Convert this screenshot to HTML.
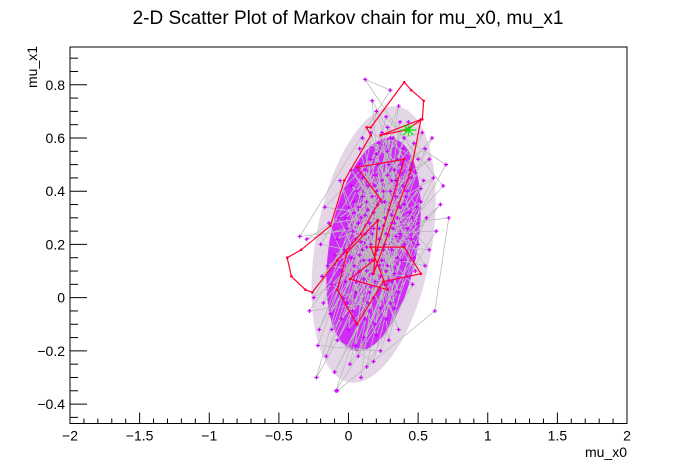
<!DOCTYPE html>
<html><head><meta charset="utf-8"><style>
body{margin:0;background:#fff;}
svg{display:block;font-family:"Liberation Sans",Arial,sans-serif;}
</style></head><body>
<svg id="chart" width="696" height="472">
<rect width="696" height="472" fill="#fff"/>
<text x="348" y="24" font-size="19" text-anchor="middle">2-D Scatter Plot of Markov chain for mu_x0, mu_x1</text>
<g id="plot"></g>
<text x="627" y="457" font-size="14" text-anchor="end">mu_x0</text>
<text transform="translate(37,88) rotate(-90)" font-size="14" text-anchor="start">mu_x1</text>
</svg>
<script>
const xTicks=[-2,-1.5,-1,-0.5,0,0.5,1,1.5,2];
const xTickLabels=["\u22122","\u22121.5","\u22121","\u22120.5","0","0.5","1","1.5","2"];
const yTicks=[-0.4,-0.2,0,0.2,0.4,0.6,0.8];
const yTickLabels=["\u22120.4","\u22120.2","0","0.2","0.4","0.6","0.8"];
const chainX=[0.12,0.25,0.05,0.31,0.18,-0.05,0.22,0.40,0.09,0.28,0.15,-0.12,0.33,0.20,0.02,0.45,0.11,0.26,0.38,-0.02,0.17,0.29,0.07,0.52,0.13,-0.18,0.24,0.35,0.04,0.19,0.47,-0.08,0.21,0.10,0.30,0.56,0.00,0.16,0.27,-0.15,0.42,0.08,0.34,0.14,-0.22,0.23,0.50,0.06,0.37,0.18,-0.10,0.28,0.61,0.03,0.20,0.44,-0.05,0.15,0.32,0.09,0.26,0.55,-0.20,0.12,0.36,0.22,-0.01,0.48,0.17,0.05,0.31,0.66,-0.12,0.24,0.11,0.40,0.19,-0.25,0.29,0.07,0.46,0.13,0.34,0.02,0.21,0.58,-0.07,0.16,0.27,0.39,0.10,-0.16,0.25,0.53,0.08,0.33,-0.03,0.19,0.42,0.14,-0.28,0.30,0.06,0.49,0.22,0.00,0.36,0.12,0.63,-0.09,0.26,0.17,0.44,0.04,0.31,-0.14,0.20,0.38,0.10,0.55,0.23,-0.04,0.28,0.15,0.47,0.01,0.35,0.18,-0.19,0.41,0.09,0.27,0.68,0.13,-0.06,0.33,0.21,0.50,0.05,-0.23,0.24,0.37,0.12,0.30,-0.02,0.45,0.16,0.58,0.08,0.26,-0.30,0.34,0.19,0.03,0.43,0.14,0.29,0.52,-0.10,0.22,0.36,0.07,0.40,0.18,-0.08,0.60,0.25,0.11,0.32,0.02,0.48,0.20,-0.17,0.35,0.15,0.28,0.70,0.06,0.24,0.42,-0.13,0.17,0.31,0.10,0.54,0.21,-0.01,0.39,0.13,0.27,0.46,0.04,0.19,-0.21,0.33,0.23,0.08,0.37,0.16,0.50,0.12,0.30,-0.35,0.72,0.62,-0.08];
const chainY=[0.31,0.18,0.02,0.44,0.26,-0.08,0.12,0.35,0.21,0.55,-0.05,0.05,0.28,0.40,0.15,0.22,-0.15,0.05,0.50,0.30,0.09,0.33,-0.22,0.41,0.19,-0.02,0.62,0.15,0.36,-0.10,0.58,0.22,0.29,0.45,-0.02,0.30,-0.12,0.52,0.24,0.12,0.08,0.10,0.38,0.33,-0.18,-0.20,0.20,0.40,0.66,0.00,-0.28,0.12,0.45,0.25,0.70,0.32,0.10,0.14,0.60,-0.30,0.36,0.12,0.20,0.48,0.02,0.22,-0.02,0.47,0.38,-0.18,0.18,0.35,-0.12,0.44,0.07,0.60,0.16,0.00,0.50,0.28,0.05,-0.26,0.23,0.42,0.35,0.52,0.30,0.04,-0.08,0.42,0.18,-0.22,0.27,0.62,0.56,0.09,0.18,0.46,0.26,-0.02,-0.05,0.40,0.06,0.34,0.58,0.34,-0.12,0.24,0.25,-0.35,0.20,0.74,0.48,0.12,0.31,0.28,-0.14,0.14,0.38,0.56,0.08,0.00,0.46,0.28,0.15,-0.25,0.52,0.32,0.08,0.38,0.30,0.68,0.42,0.10,0.44,-0.04,0.50,0.28,0.22,-0.30,0.14,0.34,-0.08,0.60,0.06,0.45,0.20,0.18,0.50,0.30,0.22,0.44,0.06,-0.05,0.66,0.42,-0.16,0.36,0.16,0.26,0.72,0.34,0.20,-0.24,-0.16,0.60,0.40,0.14,0.26,0.48,0.10,0.54,0.34,0.30,0.02,0.64,0.50,-0.10,0.36,0.40,-0.06,0.24,0.06,0.60,0.44,0.18,0.26,0.56,0.36,0.10,0.30,0.32,0.42,-0.12,0.48,-0.04,0.16,0.24,0.62,0.52,0.82,0.78,0.23,0.30,-0.05,-0.35];
const burnX=[0.41,0.53,0.54,0.45,0.40,0.16,0.13,0.16,-0.03,-0.13,-0.34,-0.44,-0.41,-0.31,-0.26,-0.08,0.09,0.23,0.06,0.40,0.18,0.01,0.28,0.16,0.40,0.52,0.25,0.06,-0.08,-0.01,0.21,0.18,0.45,0.52,0.23,0.41];
const burnY=[0.63,0.67,0.74,0.78,0.81,0.64,0.64,0.61,0.44,0.27,0.18,0.15,0.08,0.03,0.02,0.14,0.24,0.37,0.49,0.52,0.14,0.07,0.03,0.19,0.19,0.09,0.06,-0.10,0.03,0.17,0.29,0.09,0.48,0.67,0.61,0.63];
const startX=[0.43];
const startY=[0.63];

const L=70,R=627,T=47,B=423.5,X0=-2,X1=2,Y0=-0.473,Y1=0.942;
const sx=v=>L+(v-X0)/(X1-X0)*(R-L);
const sy=v=>B-(v-Y0)/(Y1-Y0)*(B-T);
const NS="http://www.w3.org/2000/svg";
const g=document.getElementById('plot');
function mk(tag,attrs,parent){const e=document.createElementNS(NS,tag);for(const k in attrs)e.setAttribute(k,attrs[k]);(parent||g).appendChild(e);return e;}

const cx0=sx(0.18),cy0=sy(0.2);
const halo=mk('ellipse',{cx:cx0,cy:cy0,rx:58,ry:140,fill:'#d8c4dc','fill-opacity':0.7,transform:`rotate(10 ${cx0} ${cy0})`});


const core=mk('ellipse',{cx:cx0,cy:cy0,rx:44,ry:108,fill:'#cc00ff','fill-opacity':0.8,transform:`rotate(10 ${cx0} ${cy0})`});



let d='';chainX.forEach((x,i)=>{d+=(i?'L':'M')+sx(x).toFixed(1)+' '+sy(chainY[i]).toFixed(1);});
const cl=mk('path',{d:d,fill:'none',stroke:'#bbb','stroke-width':0.8});


chainX.forEach((x,i)=>{
  const px=sx(x),py=sy(chainY[i]);
  const p=mk('path',{d:`M${px-2} ${py}h4M${px} ${py-2}v4`,stroke:'#cc00ff','stroke-width':1.2});
  
  
});
let d2='';burnX.forEach((x,i)=>{d2+=(i?'L':'M')+sx(x).toFixed(1)+' '+sy(burnY[i]).toFixed(1);});
const bl=mk('path',{d:d2,fill:'none',stroke:'#ff0033','stroke-width':1.2});


burnX.forEach((x,i)=>{
  const c=mk('circle',{cx:sx(x),cy:sy(burnY[i]),r:1.3,fill:'#ff0033'});
  
  
});
startX.forEach((x,i)=>{
  const px=sx(x),py=sy(startY[i]);
  const s=mk('path',{d:`M${px-8} ${py}h16M${px} ${py-6}v12M${px-5} ${py-5}l10 10M${px-5} ${py+5}l10 -10`,stroke:'#00ee00','stroke-width':1.2});
  
  
});

const fr=mk('rect',{x:L,y:T,width:R-L,height:B-T,fill:'none',stroke:'#000','stroke-width':1});


for(let v=-2;v<=2.0001;v+=0.1){const major=Math.abs(v*2-Math.round(v*2))<1e-6;
  const t=mk('line',{x1:sx(v),x2:sx(v),y1:B,y2:B-(major?11:5),stroke:'#000'});
  
  }
xTicks.forEach((v,i)=>{const t=mk('text',{x:sx(v),y:B+17,'font-size':14,'text-anchor':'middle'});t.textContent=xTickLabels[i];
  
  });
for(let v=-0.45;v<=0.9001;v+=0.05){const major=Math.abs(v*5-Math.round(v*5))<1e-6;
  const t=mk('line',{x1:L,x2:L+(major?17:8),y1:sy(v),y2:sy(v),stroke:'#000'});
  
  }
yTicks.forEach((v,i)=>{const t=mk('text',{x:L-5,y:sy(v)+5,'font-size':14,'text-anchor':'end'});t.textContent=yTickLabels[i];
  
  });
</script>
</body></html>
